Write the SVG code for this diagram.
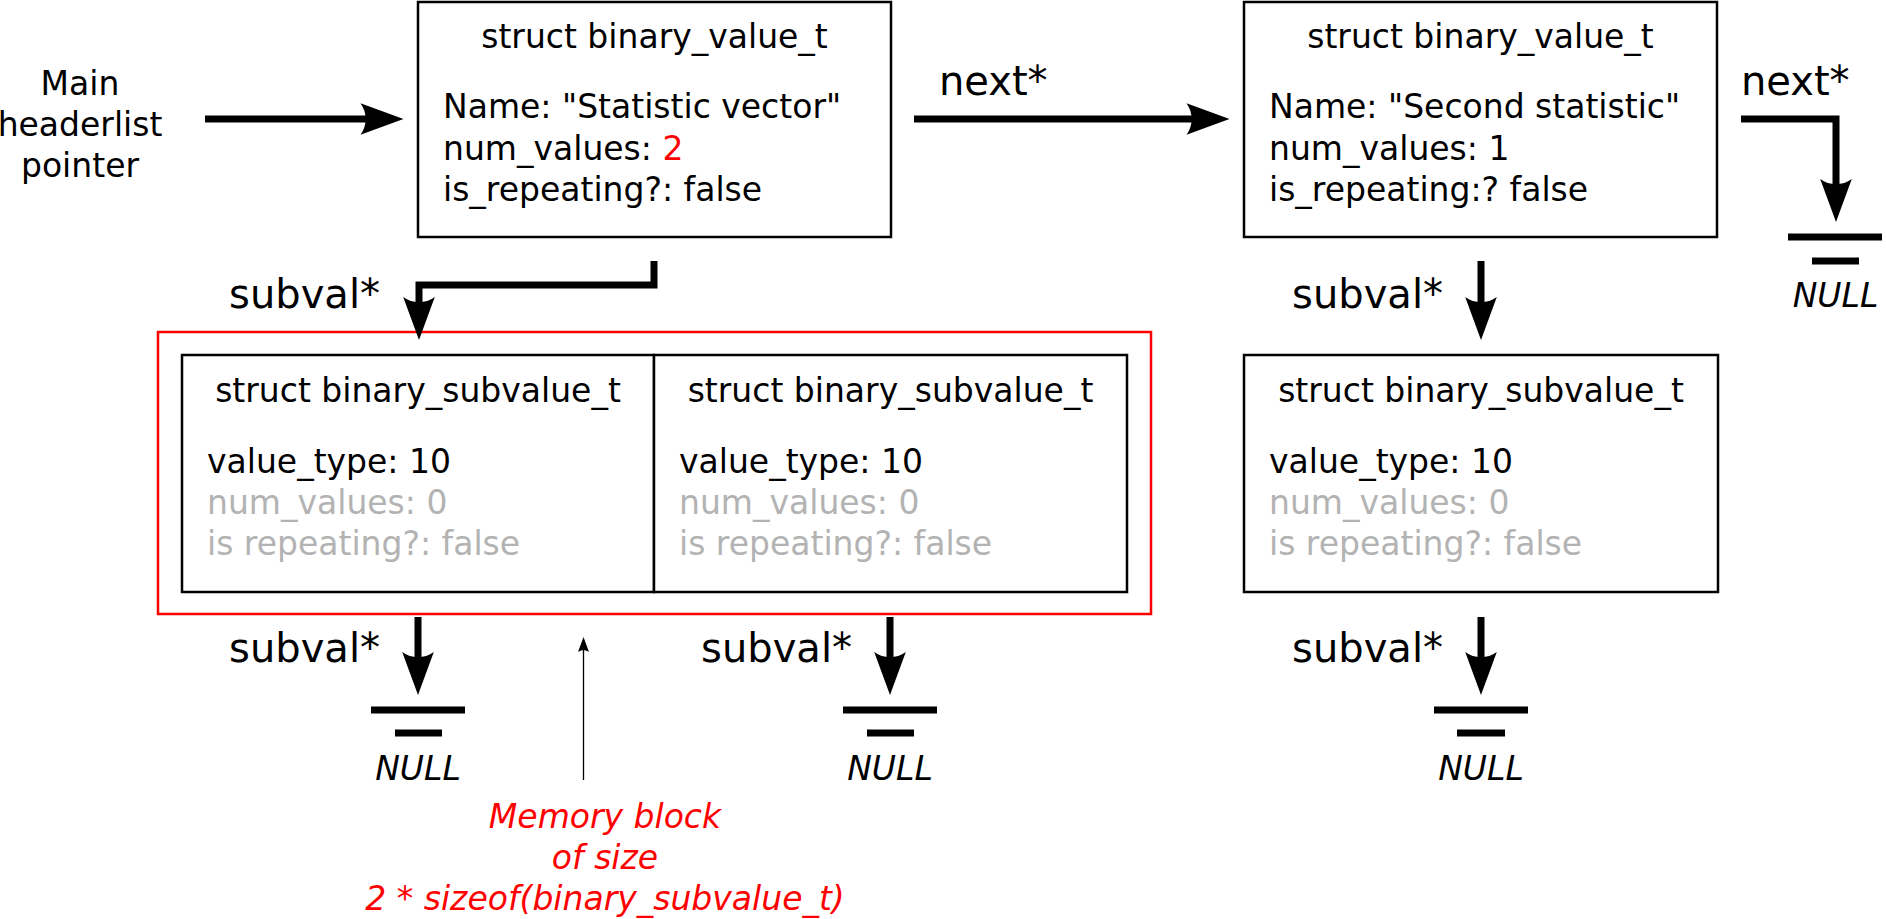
<svg xmlns="http://www.w3.org/2000/svg" width="1886" height="919" viewBox="0 0 1886 919">
<style>
text{font-family:"DejaVu Sans","Liberation Sans",sans-serif;font-size:33px;fill:#000}
.t{text-anchor:middle}
.g{fill:#b3b3b3}
.lbl{font-size:40px}
.it{font-style:italic}
.red{fill:#ff0000}
.box{fill:#fff;stroke:#000;stroke-width:2.5}
.con{fill:none;stroke:#000;stroke-width:7;stroke-linejoin:miter}
.gnd{stroke:#000;stroke-width:7}
</style>
<defs>
<marker id="ah" markerUnits="userSpaceOnUse" orient="auto" refX="0" refY="0" markerWidth="60" markerHeight="40" viewBox="-10 -20 60 40" overflow="visible">
<path d="M37,0 L-6,-15.8 C0.9,-6.4 0.9,6.4 -6,15.8 Z" fill="#000"/>
</marker>
<marker id="ahs" markerUnits="userSpaceOnUse" orient="auto" refX="0" refY="0" markerWidth="20" markerHeight="14" viewBox="-4 -7 20 14" overflow="visible">
<path d="M13,0 L-2,-5.5 C0.4,-2.2 0.4,2.2 -2,5.5 Z" fill="#000"/>
</marker>
</defs>
<rect width="1886" height="919" fill="#fff"/>

<g id="main-pointer">
<text class="t" x="80" y="95">Main</text>
<text class="t" x="80" y="136">headerlist</text>
<text class="t" x="80" y="177">pointer</text>
</g>

<g id="value1">
<rect class="box" x="418" y="2" width="473" height="235"/>
<text class="t" x="654.5" y="48">struct binary_value_t</text>
<text x="443" y="118">Name: "Statistic vector"</text>
<text x="443" y="160">num_values: <tspan class="red">2</tspan></text>
<text x="443" y="201">is_repeating?: false</text>
</g>

<g id="value2">
<rect class="box" x="1244" y="2" width="473" height="235"/>
<text class="t" x="1480.5" y="48">struct binary_value_t</text>
<text x="1269" y="118">Name: "Second statistic"</text>
<text x="1269" y="160">num_values: 1</text>
<text x="1269" y="201">is_repeating:? false</text>
</g>

<g id="memory-block">
<rect x="158" y="332" width="993" height="282" fill="none" stroke="#ff0000" stroke-width="2.5"/>
</g>

<g id="subvalue1">
<rect class="box" x="182" y="355" width="472" height="237"/>
<text class="t" x="418" y="402">struct binary_subvalue_t</text>
<text x="207" y="473">value_type: 10</text>
<text class="g" x="207" y="514">num_values: 0</text>
<text class="g" x="207" y="555">is repeating?: false</text>
</g>

<g id="subvalue2">
<rect class="box" x="654" y="355" width="473" height="237"/>
<text class="t" x="890.5" y="402">struct binary_subvalue_t</text>
<text x="679" y="473">value_type: 10</text>
<text class="g" x="679" y="514">num_values: 0</text>
<text class="g" x="679" y="555">is repeating?: false</text>
</g>

<g id="subvalue3">
<rect class="box" x="1244" y="355" width="474" height="237"/>
<text class="t" x="1481" y="402">struct binary_subvalue_t</text>
<text x="1269" y="473">value_type: 10</text>
<text class="g" x="1269" y="514">num_values: 0</text>
<text class="g" x="1269" y="555">is repeating?: false</text>
</g>

<g id="null1">
<line class="gnd" x1="1788" y1="237" x2="1882" y2="237"/>
<line class="gnd" x1="1812" y1="261" x2="1859" y2="261"/>
<text class="t it" x="1835.5" y="307">NULL</text>
</g>
<g id="null2">
<line class="gnd" x1="371" y1="710" x2="465" y2="710"/>
<line class="gnd" x1="395" y1="733" x2="442" y2="733"/>
<text class="t it" x="418" y="780">NULL</text>
</g>
<g id="null3">
<line class="gnd" x1="843" y1="710" x2="937" y2="710"/>
<line class="gnd" x1="867" y1="733" x2="914" y2="733"/>
<text class="t it" x="890" y="780">NULL</text>
</g>
<g id="null4">
<line class="gnd" x1="1434" y1="710" x2="1528" y2="710"/>
<line class="gnd" x1="1457" y1="733" x2="1505" y2="733"/>
<text class="t it" x="1481" y="780">NULL</text>
</g>

<g id="memory-note">
<text class="t it red" x="605" y="828">Memory block</text>
<text class="t it red" x="605" y="869">of size</text>
<text class="t it red" x="605" y="910">2 * sizeof(binary_subvalue_t)</text>
</g>

<g id="connectors">
<path class="con" d="M205,119 H366.5" marker-end="url(#ah)"/>
<path class="con" d="M914,119 H1192.5" marker-end="url(#ah)"/>
<path class="con" d="M654,261 V285 H419 V303" marker-end="url(#ah)"/>
<path class="con" d="M1481,261 V303" marker-end="url(#ah)"/>
<path class="con" d="M1741,119 H1836 V185" marker-end="url(#ah)"/>
<path class="con" d="M418,617 V658" marker-end="url(#ah)"/>
<path class="con" d="M890,617 V658" marker-end="url(#ah)"/>
<path class="con" d="M1481,617 V658" marker-end="url(#ah)"/>
<path d="M583.5,780 V650" fill="none" stroke="#000" stroke-width="1.3" marker-end="url(#ahs)"/>
<text class="lbl" x="939" y="95">next*</text>
<text class="lbl" x="1741" y="95">next*</text>
<text class="lbl" x="380" y="308" text-anchor="end">subval*</text>
<text class="lbl" x="1443" y="308" text-anchor="end">subval*</text>
<text class="lbl" x="380" y="662" text-anchor="end">subval*</text>
<text class="lbl" x="852" y="662" text-anchor="end">subval*</text>
<text class="lbl" x="1443" y="662" text-anchor="end">subval*</text>
</g>
</svg>
